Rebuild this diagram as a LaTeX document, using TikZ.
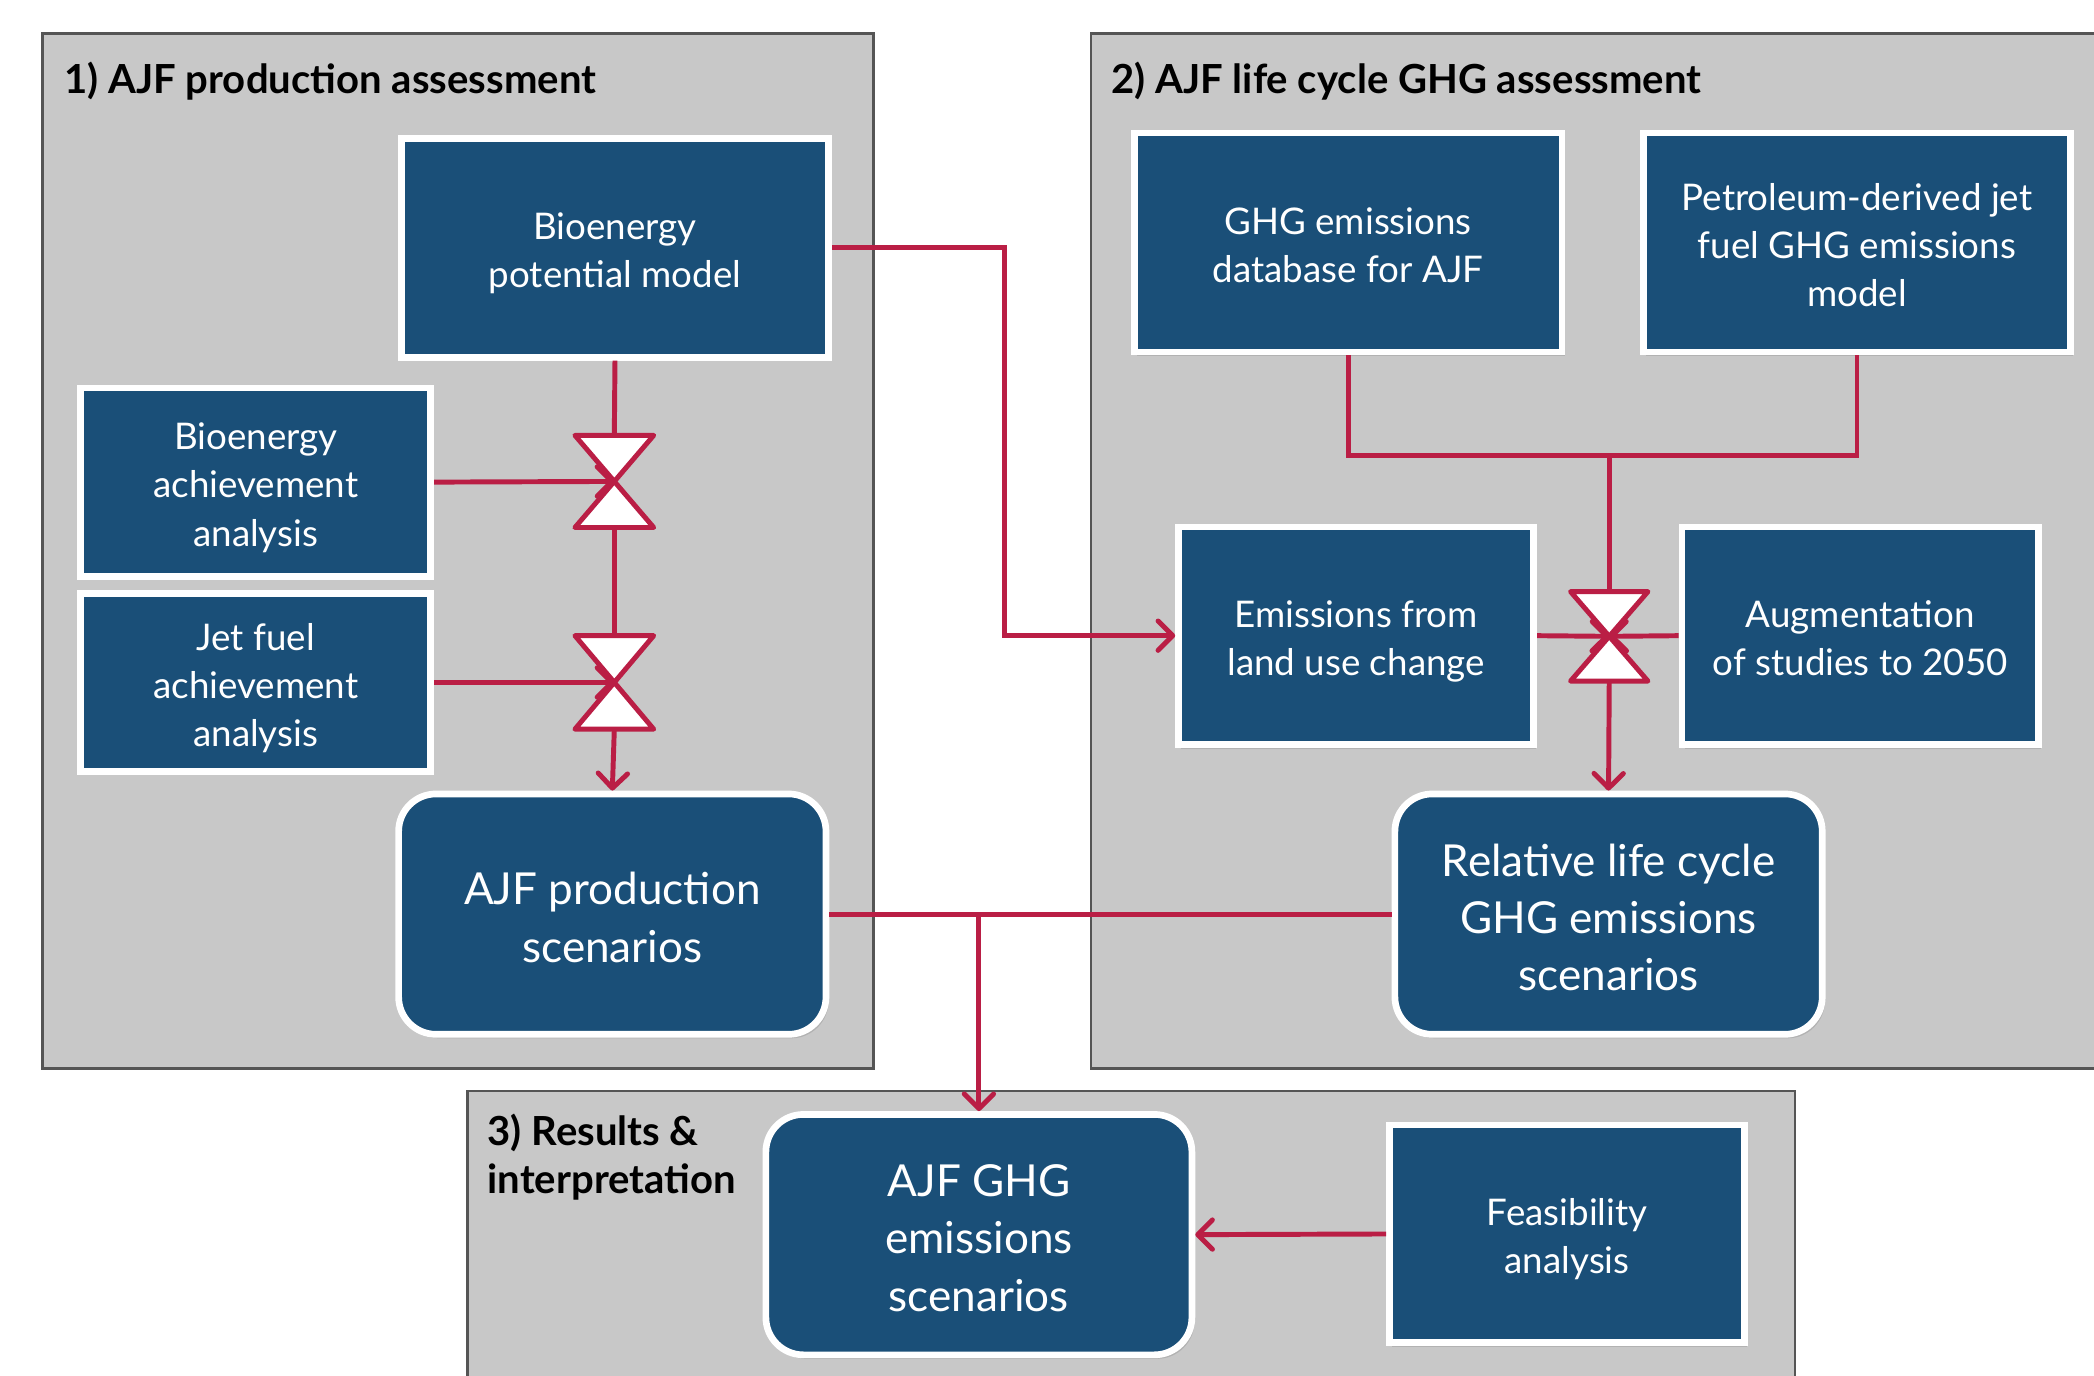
\documentclass[tikz,border=0pt]{standalone}
\usepackage{fontspec}
\setmainfont{Lato}
\usetikzlibrary{arrows.meta,shadows,calc}
\definecolor{boxblue}{HTML}{1A4F78}
\definecolor{conred}{HTML}{BA1E45}
\definecolor{panelgray}{HTML}{C8C8C8}
\definecolor{paneledge}{HTML}{555555}
\newcommand\firstln{\rule{0pt}{1.12em}}
\begin{document}
\begin{tikzpicture}[x=1pt,y=-1pt,
  panel/.style={fill=panelgray,draw=paneledge,line width=2pt},
  ptitle/.style={anchor=west,font=\fontsize{30}{36}\selectfont\bfseries,text=black,align=left,inner sep=0pt},
  boxbase/.style={fill=boxblue,draw=white,line width=5pt,text=white,align=center,inner sep=0pt,
    drop shadow={shadow xshift=2pt,shadow yshift=-3pt,opacity=0.3}},
  blockbox/.style={boxbase,font=\fontsize{27.5}{36}\selectfont,
    execute at end node={\rule[-7pt]{0pt}{7pt}}},
  bigbox/.style={boxbase,rounded corners=28pt,font=\fontsize{33}{43}\selectfont,
    execute at end node={\rule[-8pt]{0pt}{8pt}}},
  conn/.style={draw=conred,line width=3.7pt},
  arr/.style={conn,-{Straight Barb[length=11pt,width=22pt,round]}},
  valvetri/.style={fill=white,draw=conred,line width=3.7pt,line join=round}
]
\clip (0,0) rectangle (1568,1030);
\fill[white] (0,0) rectangle (1568,1030);

% panels
\draw[panel] (32,25) rectangle (654,800);
\draw[panel] (817,25) rectangle (1590,800);
\draw[panel] (350,817) rectangle (1344,1050);

\node[ptitle] (t1) at (48,61) {1) AJF production assessment};
\node[ptitle] (t2) at (832,61) {2) AJF life cycle GHG assessment};
\node[ptitle,anchor=north west] (t3) at (365,834) {3) Results \&\\interpretation};

% boxes
\node[blockbox,minimum width=320pt,minimum height=164pt] (bpm) at (460.5,185.5) {\firstln Bioenergy\\potential model};
\node[blockbox,minimum width=262pt,minimum height=141pt] (bach) at (191.5,361) {\firstln Bioenergy\\achievement\\analysis};
\node[blockbox,minimum width=262pt,minimum height=133pt] (jach) at (191.5,511) {\firstln Jet fuel\\achievement\\analysis};
\node[bigbox,minimum width=320pt,minimum height=180pt] (ajfp) at (458.5,684.5) {\firstln AJF production\\scenarios};
\node[blockbox,minimum width=320pt,minimum height=164pt] (ghg) at (1009.5,181.5) {\firstln GHG emissions\\database for AJF};
\node[blockbox,minimum width=320pt,minimum height=164pt] (pet) at (1390.5,181.5) {\firstln Petroleum-derived jet\\fuel GHG emissions\\model};
\node[blockbox,minimum width=266pt,minimum height=163pt] (eluc) at (1015.5,476) {\firstln Emissions from\\land use change};
\node[blockbox,minimum width=267pt,minimum height=163pt] (aug) at (1393,476) {\firstln Augmentation\\of studies to 2050};
\node[bigbox,minimum width=320pt,minimum height=180pt] (rel) at (1204.5,684.5) {\firstln Relative life cycle\\GHG emissions\\scenarios};
\node[bigbox,minimum width=319pt,minimum height=180pt] (ajfg) at (733,924.5) {\firstln AJF GHG\\emissions\\scenarios};
\node[blockbox,minimum width=266pt,minimum height=163pt] (feas) at (1173.5,924) {\firstln Feasibility\\analysis};

% valve coordinates
\coordinate (v1) at (460,360.5);
\coordinate (v1t) at (460,326);
\coordinate (v1b) at (460,395);
\coordinate (v2) at (460,511);
\coordinate (v2t) at (460,476);
\coordinate (v2b) at (460,546);
\coordinate (v3) at (1205,476.5);
\coordinate (v3t) at (1205,443);
\coordinate (v3b) at (1205,510);
\coordinate (j1) at (1205,341);
\coordinate (tx) at (752,0);

% connectors
\draw[conn] (bpm.south) -- (v1t);
\draw[conn] (v1b) -- (v2t);
\draw[conn] (ghg.south) |- (j1) -| (pet.south);
\draw[conn] (j1) -- (v3t);
\draw[arr] (v2b) -- (ajfp.north);
\draw[arr] (v3b) -- (rel.north);
\draw[arr] (bpm.east) -- (bpm.east -| tx) |- (eluc.west);
\draw[conn] (ajfp.east) -- (rel.west);
\draw[arr] (ajfp.east -| ajfg.north) -- (ajfg.north);
\draw[arr] (feas.west) -- (ajfg.east);

% valves
\foreach \v/\h/\w in {v1/34.5/29.5, v2/35/29.5, v3/33.5/29}{
  \draw[valvetri] (\v) -- ++(-\w,-\h) -- ++(2*\w,0) -- cycle;
  \draw[valvetri] (\v) -- ++(-\w,\h) -- ++(2*\w,0) -- cycle;
}

% arrows into valves
\draw[arr] (bach.east) -- (v1);
\draw[arr] (jach.east) -- (v2);
\draw[arr] (eluc.east) -- (v3);
\draw[arr] (aug.west) -- (v3);
\end{tikzpicture}
\end{document}
